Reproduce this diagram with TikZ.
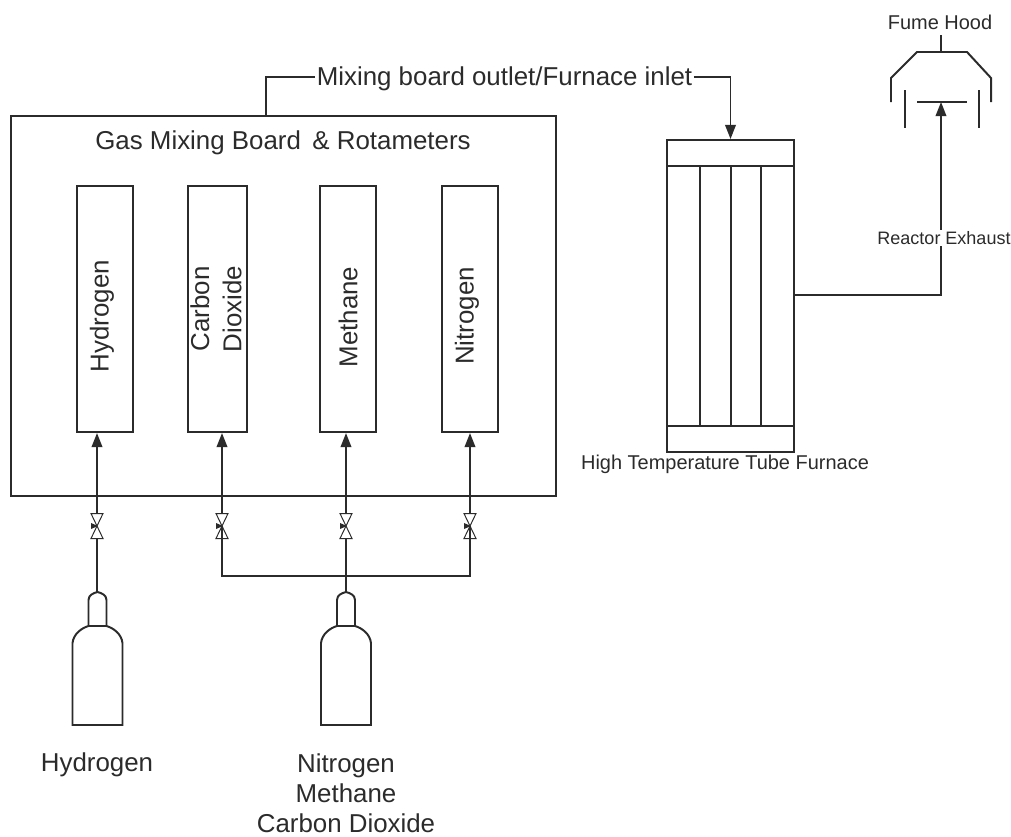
\documentclass[tikz,border=0pt]{standalone}
\usepackage{fontspec}
\setmainfont{Liberation Sans}
\usepackage{tikz}
\usetikzlibrary{arrows.meta, calc, positioning}
\definecolor{linedk}{HTML}{2B2B2B}
\tikzset{
  pipe/.style     = {draw=linedk, line width=1.4pt},
  flow/.style     = {pipe, -{Stealth[length=10pt, width=7.5pt, inset=0pt]}},
  boxnode/.style  = {draw=linedk, line width=1.4pt, inner sep=0pt},
  rotameter/.style = {boxnode, minimum width=40pt, minimum height=175pt},
  biglab/.style   = {font=\fontsize{18.4pt}{22.8pt}\selectfont, text=linedk, inner sep=1pt},
  smalllab/.style = {font=\fontsize{14.2pt}{17pt}\selectfont, text=linedk, inner sep=1pt},
}
\newcommand{\gasvalve}[2]{%
  \coordinate (#2) at (#1);
  \coordinate (#2n) at ($(#1)+(0,-12.5)$);
  \coordinate (#2s) at ($(#1)+(0,12.5)$);
  \draw[draw=linedk, line width=0.7pt] ($(#1)+(-6,-12.5)$) -- ($(#1)+(6,-12.5)$) -- ($(#1)+(-6,12.5)$)
    -- ($(#1)+(6,12.5)$) -- cycle;
  \fill[linedk] ($(#1)+(-6,-3)$) -- ($(#1)+(1,0)$) -- ($(#1)+(-6,3)$) -- cycle;}
\newcommand{\gasbottle}[2]{%
  \coordinate (#2) at (#1);
  \draw[pipe] (#1) .. controls ($(#1)+(-4,1)$) and ($(#1)+(-9,3)$) .. ($(#1)+(-9,8)$)
    -- ($(#1)+(-9,34)$) .. controls ($(#1)+(-16,36)$) and ($(#1)+(-24,42)$) .. ($(#1)+(-25,51)$)
    -- ($(#1)+(-25,133)$) -- ($(#1)+(25,133)$) -- ($(#1)+(25,51)$)
    .. controls ($(#1)+(24,42)$) and ($(#1)+(16,36)$) .. ($(#1)+(9,34)$)
    -- ($(#1)+(9,8)$) .. controls ($(#1)+(9,3)$) and ($(#1)+(4,1)$) .. (#1) -- cycle;
  \draw[pipe] ($(#1)+(-9,34)$) -- ($(#1)+(9,34)$);}

\begin{document}
\begin{tikzpicture}[x=0.025cm, y=-0.025cm]
  \useasboundingbox (0,0) rectangle (1011,836);
  % mixing board
  \node[boxnode, minimum width=387.7pt, minimum height=270.3pt] (board) at (283.5,306) {};
  \node[biglab] (boardlab) at (283,143) {Gas Mixing Board \,\& Rotameters};
  \node[rotameter] (roth) at (105,309) {};
  \node[rotameter, minimum width=42pt] (rotc) at (217.5,309) {};
  \node[rotameter] (rotm) at (348,309) {};
  \node[rotameter] (rotn) at (470,309) {};
  \node[biglab, rotate=90] (labh) at (102,316) {Hydrogen};
  \node[biglab, rotate=90, align=center] (labc) at (216,309) {Carbon\\Dioxide};
  \node[biglab, rotate=90] (labm) at (348,317) {Methane};
  \node[biglab, rotate=90] (labn) at (467,316) {Nitrogen};
  % valves and bottles
  \gasvalve{97,526}{vh}
  \gasvalve{222,526}{vc}
  \gasvalve{346,526}{vm}
  \gasvalve{470,526}{vn}
  \gasbottle{97.5,592}{bh}
  \gasbottle{346,592}{bm}
  \coordinate (mani) at (346,576);
  \draw[flow] (vhn) -- (vhn |- roth.south);
  \draw[flow] (vcn) -- (vcn |- rotc.south);
  \draw[flow] (vmn) -- (vmn |- rotm.south);
  \draw[flow] (vnn) -- (vnn |- rotn.south);
  \draw[pipe] (vhs |- bh) -- (vhs);
  \draw[pipe] (bm) -- (vms);
  \draw[pipe] (vc) -- (vc |- mani) -- (vn |- mani) -- (vn);
  \node[biglab] (labbh) at (97,765) {Hydrogen};
  \node[biglab, inner sep=0pt, align=center, font=\fontsize{18.4pt}{21.4pt}\selectfont] (labbm) at (346,793) {Nitrogen\\Methane\\Carbon Dioxide};
  % furnace
  \node[boxnode, minimum width=90.3pt, minimum height=221.9pt] (furn) at (730.5,296) {};
  \coordinate (ftop) at (667,166);
  \coordinate (fbot) at (667,426);
  \draw[pipe] (ftop) -- (ftop -| furn.east);
  \draw[pipe] (fbot) -- (fbot -| furn.east);
  \foreach \tx in {700,731,761} {
    \draw[pipe] (\tx,166) -- (\tx,426);
  }
  \node[smalllab] (labf) at (725,464) {High Temperature Tube Furnace};
  % inlet line
  \node[biglab] (labin) at (504.5,78.5) {Mixing board outlet/Furnace inlet};
  \coordinate (outl) at (266,116);
  \coordinate (inl) at (labin.west |- 0,77);
  \coordinate (inr) at (labin.east |- 0,77);
  \draw[pipe] (outl) |- (inl);
  \draw[flow] (inr) -| (furn.north);
  % fume hood
  \coordinate (hoodin) at (941,102);
  \draw[pipe] (941,35) -- (941,52);
  \draw[pipe] (891,102) -- (891,78) -- (917,52) -- (967,52) -- (991,78) -- (991,102);
  \draw[pipe] (905,90) -- (905,128);
  \draw[pipe] (979,90) -- (979,128);
  \draw[pipe] (917,102) -- (967,102);
  \node[smalllab] (labhood) at (940,22) {Fume Hood};
  \draw[flow] (furn.east |- 0,295) -| (hoodin);
  \node[smalllab, fill=white, font=\fontsize{12.8pt}{15pt}\selectfont] (labex) at (944,238) {Reactor Exhaust};
\end{tikzpicture}
\end{document}
